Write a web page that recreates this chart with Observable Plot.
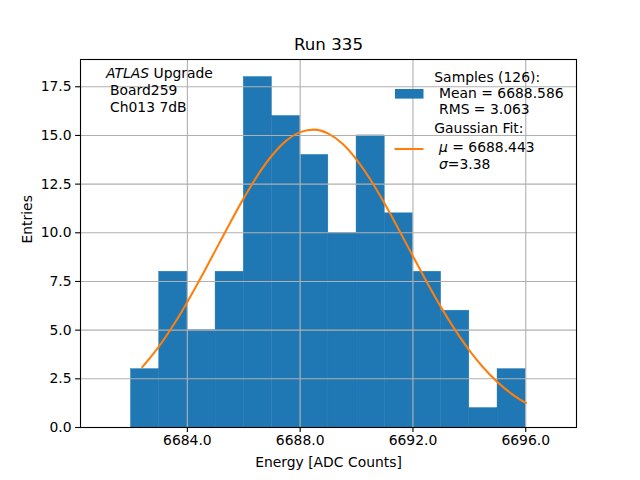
<!DOCTYPE html>
<html>
<head>
<meta charset="utf-8">
<script src="https://cdn.jsdelivr.net/npm/d3@7"></script>
<script src="https://cdn.jsdelivr.net/npm/@observablehq/plot@0.6"></script>
<style>
  html, body { margin: 0; padding: 0; background: #fff; }
  #chart { width: 640px; height: 480px; }
</style>
</head>
<body>
<div id="chart"></div>
<script>
// ---- data ----
const binEdgesLow = [6682, 6683, 6684, 6685, 6686, 6687, 6688, 6689, 6690, 6691, 6692, 6693, 6694, 6695];
const binEdgesHigh = [6683, 6684, 6685, 6686, 6687, 6688, 6689, 6690, 6691, 6692, 6693, 6694, 6695, 6696];
const counts = [3, 8, 5, 8, 18, 16, 14, 10, 15, 11, 8, 6, 1, 3];

const fitX = [6682.4, 6683.0, 6683.5, 6684.0, 6684.5, 6685.0, 6685.5, 6686.0, 6686.5, 6687.0, 6687.5,
  6688.0, 6688.5, 6689.0, 6689.5, 6690.0, 6690.5, 6691.0, 6691.5, 6692.0, 6692.5, 6693.0, 6693.5,
  6694.0, 6694.5, 6695.0, 6695.5, 6696.0];
const fitY = [3.10, 4.18, 5.25, 6.45, 7.75, 9.11, 10.47, 11.78, 12.97, 13.97, 14.72,
  15.17, 15.30, 15.09, 14.57, 13.76, 12.71, 11.49, 10.16, 8.80, 7.45, 6.17, 5.00,
  3.96, 3.07, 2.33, 1.73, 1.26];

const xTicks = [6684, 6688, 6692, 6696];
const yTicks = [0, 2.5, 5, 7.5, 10, 12.5, 15, 17.5];
const xDomain = [6680.21, 6697.8];
const yDomain = [0, 18.9];

const titleText = "Run 335";
const xLabel = "Energy [ADC Counts]";
const yLabel = "Entries";

// ---- tables ----
const bins = counts.map((c, i) => ({x1: binEdgesLow[i], x2: binEdgesHigh[i], y: c}));
const fit = fitX.map((x, i) => ({x, y: fitY[i]}));

const BLUE = "#1f77b4", ORANGE = "#ff7f0e", GRID = "#b0b0b0";
const FONT = "DejaVu Sans";

const plot = Plot.plot({
  width: 640,
  height: 480,
  marginLeft: 80,
  marginRight: 64,
  marginTop: 59,
  marginBottom: 53,
  style: {fontFamily: FONT, fontSize: "13.9px", color: "#000", background: "#fff", overflow: "visible"},
  x: {domain: xDomain, ticks: xTicks},
  y: {domain: yDomain, ticks: yTicks},
  marks: [
    Plot.rectY(bins, {x1: "x1", x2: "x2", y: "y", fill: BLUE, stroke: BLUE, strokeWidth: 0.4, insetLeft: 0, insetRight: 0}),
    Plot.gridX(xTicks, {stroke: GRID, strokeOpacity: 1, strokeWidth: 1.1}),
    Plot.gridY(yTicks, {stroke: GRID, strokeOpacity: 1, strokeWidth: 1.1}),
    Plot.line(fit, {x: "x", y: "y", stroke: ORANGE, strokeWidth: 2.08, curve: "monotone-x"}),
    Plot.frame({stroke: "#000", strokeWidth: 1.1}),
    Plot.axisX(xTicks, {tickSize: 4.9, tickPadding: 3, strokeWidth: 1.1, tickFormat: d => d.toFixed(1), label: null, fontSize: 13.9}),
    Plot.axisY(yTicks, {tickSize: 4.9, tickPadding: 4, strokeWidth: 1.1, tickFormat: d => d.toFixed(1), label: null, fontSize: 13.9}),
    Plot.text([titleText], {text: d => d, frameAnchor: "top", dy: -15, fontSize: 16.67, lineAnchor: "middle"}),
    Plot.text([xLabel], {text: d => d, frameAnchor: "bottom", dy: 35, fontSize: 13.9, lineAnchor: "middle"}),
    Plot.text([yLabel], {text: d => d, frameAnchor: "left", dx: -53, dy: 0, rotate: -90, fontSize: 13.9, lineAnchor: "middle"})
  ]
});

document.getElementById("chart").appendChild(plot);

// ---- annotation and legend (text styling needs tspans) ----
const svg = d3.select(plot);
const g = svg.append("g").attr("font-family", FONT).attr("font-size", "13.9px")
  .attr("fill", "#000").attr("text-anchor", "start");

const ann = g.append("text").attr("x", 106).attr("y", 78.3);
ann.append("tspan").attr("font-style", "italic").text("ATLAS");
ann.append("tspan").text(" Upgrade");
g.append("text").attr("x", 110).attr("y", 95.3).text("Board259");
g.append("text").attr("x", 110).attr("y", 111.8).text("Ch013 7dB");

// legend
g.append("rect").attr("x", 395).attr("y", 89).attr("width", 28.5).attr("height", 9.6).attr("fill", BLUE);
g.append("line").attr("x1", 394.5).attr("x2", 423.5).attr("y1", 149).attr("y2", 149)
  .attr("stroke", ORANGE).attr("stroke-width", 2.08);

g.append("text").attr("x", 434.3).attr("y", 81.5).text("Samples (126):");
g.append("text").attr("x", 439).attr("y", 97.8).text("Mean = 6688.586");
g.append("text").attr("x", 439).attr("y", 114.2).text("RMS = 3.063");
g.append("text").attr("x", 434.3).attr("y", 132.6).text("Gaussian Fit:");
const mu = g.append("text").attr("x", 439).attr("y", 151.5);
mu.append("tspan").attr("font-style", "italic").text("μ");
mu.append("tspan").text(" = 6688.443");
const sg = g.append("text").attr("x", 439).attr("y", 168.5);
sg.append("tspan").attr("font-style", "italic").text("σ");
sg.append("tspan").text("=3.38");
</script>
</body>
</html>
